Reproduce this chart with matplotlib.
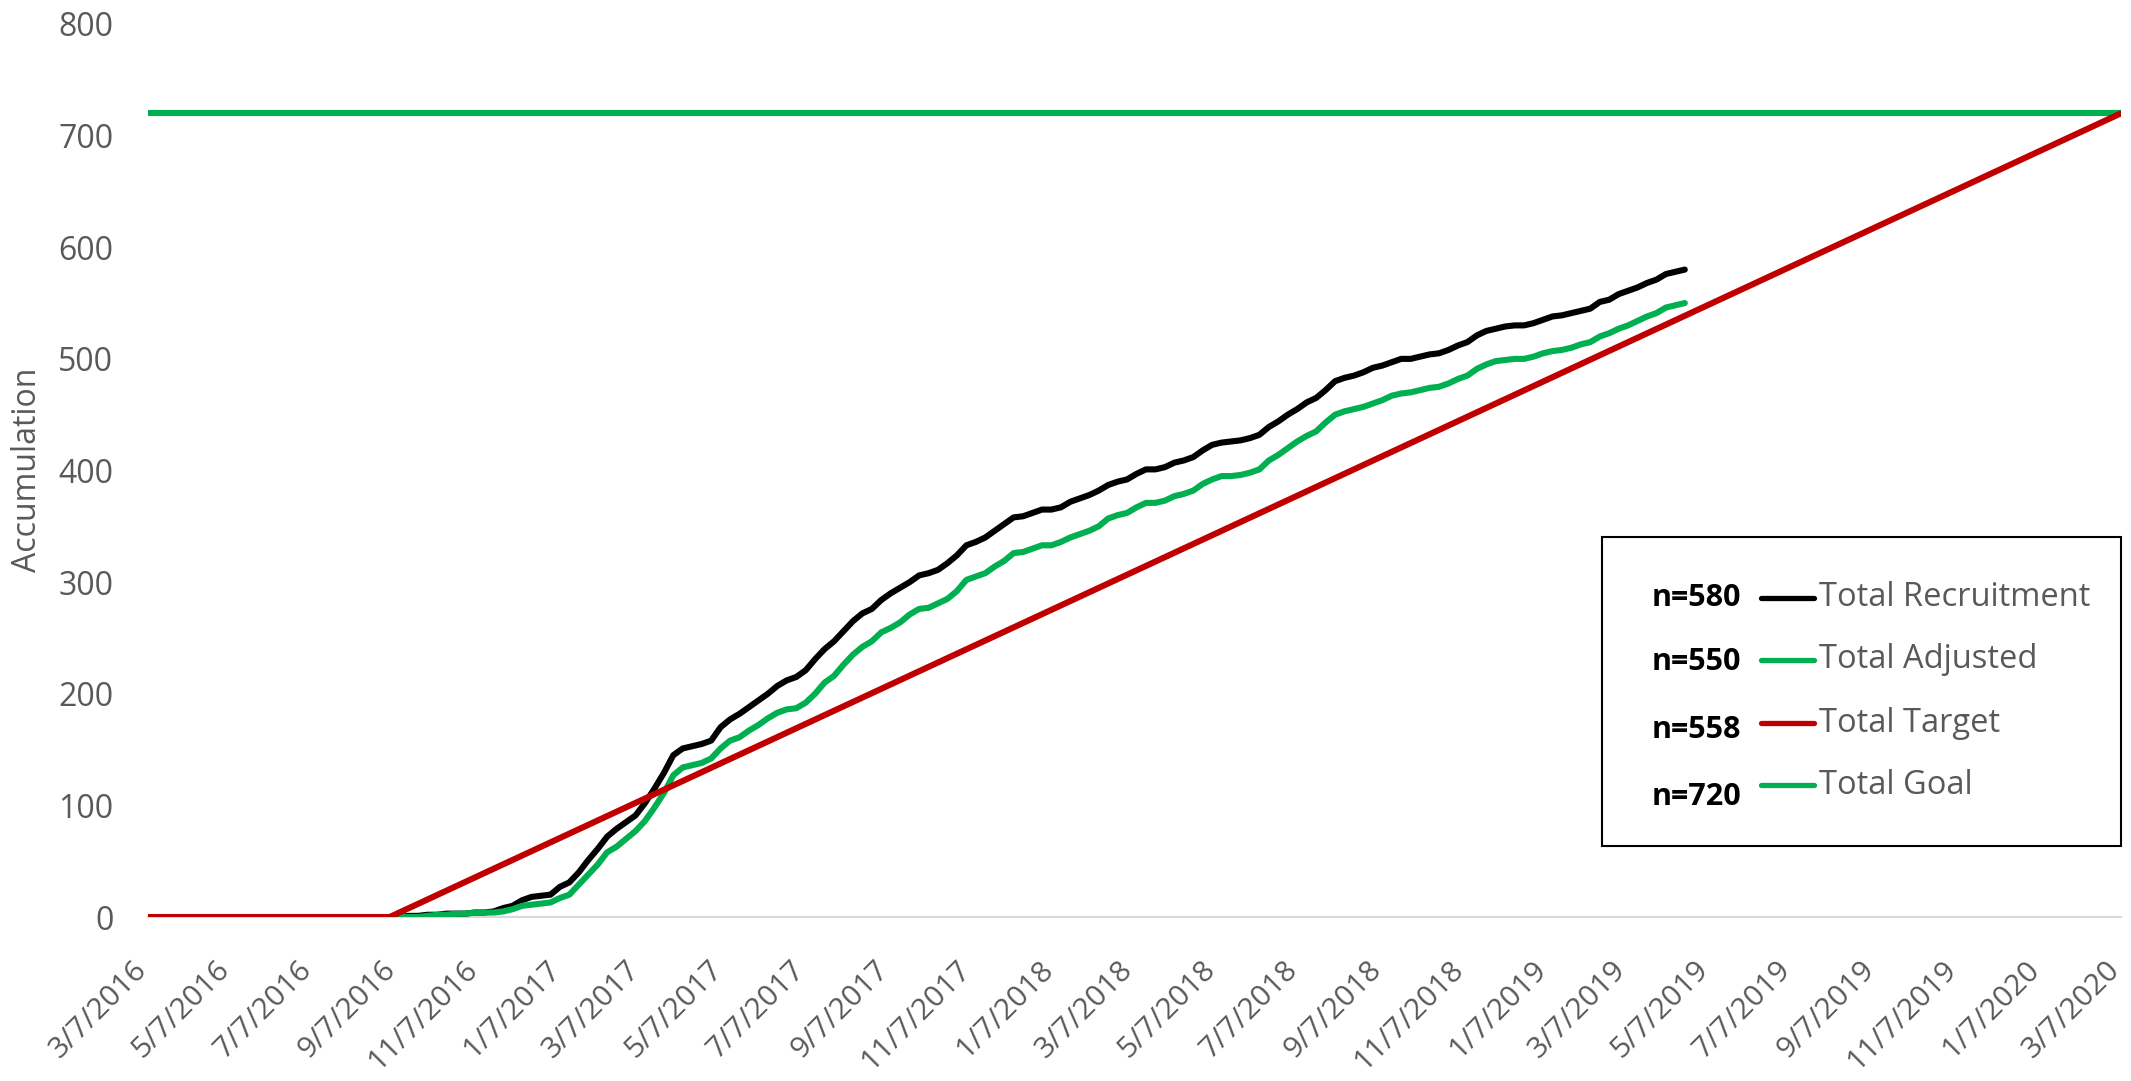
import numpy as np
import pandas as pd
import matplotlib
matplotlib.use("Agg")
import matplotlib.pyplot as plt
from matplotlib.lines import Line2D
from matplotlib.patches import Rectangle
from matplotlib.transforms import ScaledTranslation

plt.rcParams["font.family"] = ["Open Sans", "DejaVu Sans"]

# --- data (weekly cumulative counts) ---
first_week = "2016-09-02"
recruitment = [
    0, 0, 1, 1, 2, 2, 3, 3, 3, 4, 4, 5,
    8, 10, 15, 18, 19, 20, 27, 31, 40, 51, 61, 72,
    79, 85, 91, 102, 115, 129, 145, 151, 153, 155, 158, 170,
    177, 182, 188, 194, 200, 207, 212, 215, 221, 231, 240, 247,
    256, 265, 272, 276, 284, 290, 295, 300, 306, 308, 311, 317,
    324, 333, 336, 340, 346, 352, 358, 359, 362, 365, 365, 367,
    372, 375, 378, 382, 387, 390, 392, 397, 401, 401, 403, 407,
    409, 412, 418, 423, 425, 426, 427, 429, 432, 439, 444, 450,
    455, 461, 465, 472, 480, 483, 485, 488, 492, 494, 497, 500,
    500, 502, 504, 505, 508, 512, 515, 521, 525, 527, 529, 530,
    530, 532, 535, 538, 539, 541, 543, 545, 551, 553, 558, 561,
    564, 568, 571, 576, 578, 580,
]
adjusted = [
    0, 0, 0, 0, 1, 2, 2, 3, 3, 4, 4, 4,
    5, 7, 10, 11, 12, 13, 17, 20, 29, 38, 47, 58,
    63, 70, 77, 86, 98, 111, 127, 134, 136, 138, 142, 151,
    158, 161, 167, 172, 178, 183, 186, 187, 192, 200, 210, 216,
    226, 235, 242, 247, 255, 259, 264, 271, 276, 277, 281, 285,
    292, 302, 305, 308, 314, 319, 326, 327, 330, 333, 333, 336,
    340, 343, 346, 350, 357, 360, 362, 367, 371, 371, 373, 377,
    379, 382, 388, 392, 395, 395, 396, 398, 401, 409, 414, 420,
    426, 431, 435, 443, 450, 453, 455, 457, 460, 463, 467, 469,
    470, 472, 474, 475, 478, 482, 485, 491, 495, 498, 499, 500,
    500, 502, 505, 507, 508, 510, 513, 515, 520, 523, 527, 530,
    534, 538, 541, 546, 548, 550,
]
target_dates = ["2016-03-07", "2016-09-02", "2020-03-07"]
target_values = [0, 0, 720]
goal_dates = ["2016-03-07", "2020-03-07"]
goal_values = [720, 720]

legend_labels = ["Total Recruitment", "Total Adjusted", "Total Target", "Total Goal"]
legend_counts = ["n=580", "n=550", "n=558", "n=720"]

weeks = pd.date_range(first_week, periods=len(recruitment), freq="7D")
tick_dates = pd.date_range("2016-03-07", "2020-03-07", freq=pd.DateOffset(months=2))

BLACK, GREEN, RED, GREY = "#000000", "#00B050", "#C00000", "#595959"

W, H = 2131, 1081
fig = plt.figure(figsize=(W / 100, H / 100), dpi=100)
ax = fig.add_axes([148 / W, 1 - 917 / H, (2121 - 148) / W, (917 - 24) / H])

lw = 4.4
ax.plot(weeks, recruitment, color=BLACK, lw=lw, solid_capstyle="round", solid_joinstyle="round", zorder=3)
ax.plot(weeks, adjusted, color=GREEN, lw=lw, solid_capstyle="round", solid_joinstyle="round", zorder=3)
ax.plot(pd.to_datetime(goal_dates), goal_values, color=GREEN, lw=lw, solid_capstyle="round", zorder=4)
ax.plot(pd.to_datetime(target_dates), target_values, color=RED, lw=lw, solid_capstyle="round", zorder=5)

ax.set_xlim(pd.Timestamp("2016-03-07"), pd.Timestamp("2020-03-07"))
ax.set_ylim(0, 800)
ax.set_yticks(np.arange(0, 801, 100))
ax.set_xticks(tick_dates)
ax.set_xticklabels([f"{d.month}/{d.day}/{d.year}" for d in tick_dates])

for s in ["left", "right", "top"]:
    ax.spines[s].set_visible(False)
ax.spines["bottom"].set_color("#D9D9D9")
ax.spines["bottom"].set_linewidth(1.5)
ax.spines["bottom"].set_zorder(1)

ax.tick_params(axis="y", length=0, pad=25, labelsize=23, labelcolor=GREY)
ax.tick_params(axis="x", length=0, pad=35, labelsize=21.5, labelcolor=GREY)
shift = ScaledTranslation(-5 / 100, 0, fig.dpi_scale_trans)
for lab in ax.get_xticklabels():
    lab.set_rotation(45)
    lab.set_ha("right")
    lab.set_va("center")
    lab.set_rotation_mode("anchor")
    lab.set_transform(lab.get_transform() + shift)

fig.text(28 / W, 1 - 470 / H, "Accumulation", rotation=90, ha="center", va="center",
         fontsize=23, color=GREY)

# legend box drawn by hand (n= labels sit outside the usual legend layout)
fig.add_artist(Rectangle((1602 / W, 1 - 846 / H), 519 / W, 309 / H, transform=fig.transFigure,
                         fill=False, edgecolor="black", lw=1.5))
leg_colors = [BLACK, GREEN, RED, GREEN]
text_y = [598, 660, 723, 785]
count_y = [598, 662, 730, 797]
for lab, cnt, c, ty, cy in zip(legend_labels, legend_counts, leg_colors, text_y, count_y):
    fig.add_artist(Line2D([1761 / W, 1814 / W], [1 - ty / H, 1 - ty / H], transform=fig.transFigure,
                          color=c, lw=3.8, solid_capstyle="round"))
    fig.text(1819 / W, 1 - ty / H, lab, ha="left", va="center", fontsize=23.5, color=GREY)
    fig.text(1652 / W, 1 - cy / H, cnt, ha="left", va="center", fontsize=22, fontweight="bold",
             color="black")

fig.savefig("out.png", dpi=100)
